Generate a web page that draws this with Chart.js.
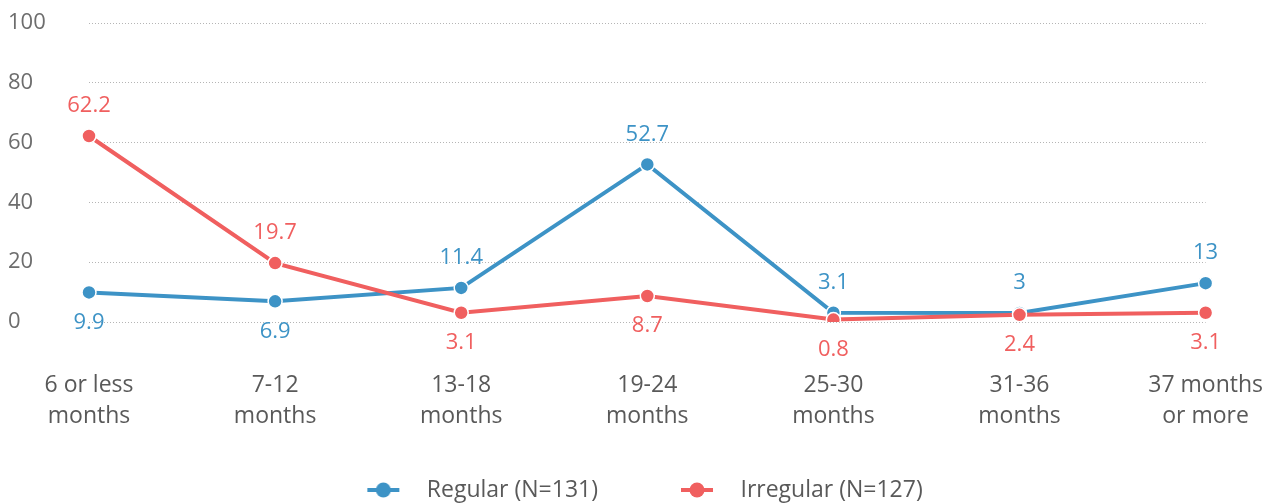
<!DOCTYPE html>
<html>
<head>
<meta charset="utf-8">
<script src="https://cdn.jsdelivr.net/npm/chart.js@4.4.0/dist/chart.umd.min.js"></script>
<style>
  html, body { margin: 0; padding: 0; background: #fff; }
</style>
</head>
<body>
<canvas id="myChart" width="1263" height="504"></canvas>
<script>
// dados do gráfico
var categorias = [
  ['6 or less', 'months'],
  ['7-12', 'months'],
  ['13-18', 'months'],
  ['19-24', 'months'],
  ['25-30', 'months'],
  ['31-36', 'months'],
  ['37 months', 'or more']
];
var regular = [9.9, 6.9, 11.4, 52.7, 3.1, 3, 13];
var irregular = [62.2, 19.7, 3.1, 8.7, 0.8, 2.4, 3.1];
var nomeRegular = 'Regular (N=131)';
var nomeIrregular = 'Irregular (N=127)';

// onde fica o rótulo de cada ponto
var ladoRegular = ['below', 'below', 'above', 'above', 'above', 'above', 'above'];
var ladoIrregular = ['above', 'above', 'below', 'below', 'below', 'below', 'below'];

var azul = '#3d93c6';
var vermelho = '#f05f5f';

Chart.defaults.font.family = "'Open Sans', sans-serif";

// ícone da legenda: traço - bolinha - traço (com margem à esquerda para afastar os itens)
var margemIcone = 76;
function iconeLegenda(cor) {
  var c = document.createElement('canvas');
  c.width = margemIcone + 48;
  c.height = 20;
  var ctx = c.getContext('2d');
  var x0 = margemIcone;
  ctx.strokeStyle = cor;
  ctx.lineWidth = 4;
  ctx.beginPath();
  ctx.moveTo(x0, 10); ctx.lineTo(x0 + 9, 10);
  ctx.moveTo(x0 + 23, 10); ctx.lineTo(x0 + 32, 10);
  ctx.stroke();
  ctx.fillStyle = cor;
  ctx.beginPath();
  ctx.arc(x0 + 16, 10, 7.5, 0, Math.PI * 2);
  ctx.fill();
  return c;
}
var icones = [iconeLegenda(azul), iconeLegenda(vermelho)];

// plugin simples para escrever os valores junto dos pontos
var rotulos = {
  id: 'rotulos',
  afterDatasetsDraw: function (chart) {
    var ctx = chart.ctx;
    ctx.save();
    ctx.font = "22px 'Open Sans', sans-serif";
    ctx.textAlign = 'center';
    ctx.textBaseline = 'middle';
    chart.data.datasets.forEach(function (ds, i) {
      var meta = chart.getDatasetMeta(i);
      meta.data.forEach(function (pt, j) {
        var dy = ds.lados[j] === 'above' ? -30 : 30;
        ctx.fillStyle = ds.borderColor;
        ctx.fillText(String(ds.data[j]), pt.x, pt.y + dy);
      });
    });
    ctx.restore();
  }
};

var config = {
  type: 'line',
  data: {
    labels: categorias,
    datasets: [{
      label: nomeRegular,
      data: regular,
      lados: ladoRegular,
      borderColor: azul,
      backgroundColor: azul,
      borderWidth: 4,
      pointRadius: 7,
      pointBorderColor: '#fff',
      pointBorderWidth: 1.5,
      pointBackgroundColor: azul,
      tension: 0,
      order: 1
    }, {
      label: nomeIrregular,
      data: irregular,
      lados: ladoIrregular,
      borderColor: vermelho,
      backgroundColor: vermelho,
      borderWidth: 4,
      pointRadius: 7,
      pointBorderColor: '#fff',
      pointBorderWidth: 1.5,
      pointBackgroundColor: vermelho,
      tension: 0,
      order: 0
    }]
  },
  options: {
    responsive: false,
    animation: false,
    layout: { padding: { left: 8, right: 57, top: 23, bottom: -7.5 } },
    plugins: {
      tooltip: { enabled: false },
      legend: {
        position: 'bottom',
        labels: {
          usePointStyle: true,
          pointStyleWidth: margemIcone + 48,
          padding: 7,
          color: '#595959',
          font: { size: 23 },
          sort: function (a, b) { return a.datasetIndex - b.datasetIndex; },
          generateLabels: function (chart) {
            var itens = Chart.defaults.plugins.legend.labels.generateLabels(chart);
            itens.forEach(function (it) { it.pointStyle = icones[it.datasetIndex]; });
            return itens;
          }
        }
      }
    },
    scales: {
      x: {
        offset: false,
        // marcas invisíveis só para empurrar os rótulos para baixo
        grid: { display: true, drawOnChartArea: false, drawTicks: true, tickLength: 48, color: 'rgba(0,0,0,0)' },
        border: { display: false },
        ticks: {
          color: '#595959',
          font: { size: 23, lineHeight: 1.35 },
          padding: 0,
          maxRotation: 0,
          autoSkip: false
        },
        afterFit: function (scale) { scale.height = 149.5; }
      },
      y: {
        min: 0,
        max: 100,
        grid: { color: '#b5b5b5', lineWidth: 1, drawTicks: false },
        border: { display: false, dash: [1, 2] },
        ticks: {
          stepSize: 20,
          color: '#6d6d6d',
          crossAlign: 'far',
          font: { size: 22 }
        },
        afterFit: function (scale) { scale.width = 81; }
      }
    }
  },
  plugins: [rotulos]
};

var myChart = new Chart(document.getElementById('myChart').getContext('2d'), config);
</script>
</body>
</html>
